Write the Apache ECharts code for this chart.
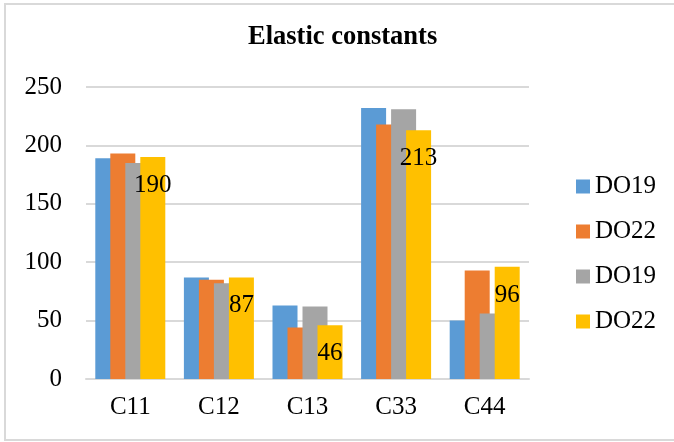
<!DOCTYPE html>
<html>
<head>
<meta charset="utf-8">
<script src="https://cdn.jsdelivr.net/npm/echarts@6/dist/echarts.min.js"></script>
<style>
  html, body { margin: 0; padding: 0; background: #fff; }
  .frame {
    position: absolute; left: 4px; top: 3px;
    width: 690px; height: 438px;
    border: 2px solid #d9d9d9; box-sizing: border-box;
  }
  .chart { position: absolute; left: 0; top: 0; width: 674px; height: 442px; }
</style>
</head>
<body>
<div class="frame"></div>
<div id="chart" class="chart"></div>
<script>
  // data
  var categories = ['C11', 'C12', 'C13', 'C33', 'C44']
  var seriesNames = ['DO19', 'DO22', 'DO19', 'DO22']
  var do19a = [189, 87, 63, 232, 50]
  var do22a = [193, 85, 44, 218, 93]
  var do19b = [185, 82, 62, 231, 56]
  var do22b = [190, 87, 46, 213, 96]
  var yTicks = [0, 50, 100, 150, 200, 250]

  var font = "'Liberation Serif', 'Times New Roman', serif"
  var colorlist = ['#5b9bd5', '#ed7d31', '#a5a5a5', '#ffc000']
  var values = [do19a, do22a, do19b, do22b]

  var myChart = echarts.init(document.getElementById('chart'))
  var series = []
  values.forEach(function (data, index) {
    series.push({
      // names must be unique for the legend, the suffix is cut off in the formatter
      name: seriesNames[index] + '#' + index,
      type: 'bar',
      data: data,
      color: colorlist[index],
      barWidth: 25,
      barGap: '-40%',
      label: {
        show: index === 3,
        position: 'insideTop',
        distance: 16,
        color: '#000',
        fontFamily: font,
        fontSize: 25
      }
    })
  })

  var option = {
    animation: false,
    textStyle: { fontFamily: font },
    title: {
      text: 'Elastic constants',
      left: 248,
      top: 24,
      padding: 0,
      textStyle: { fontFamily: font, fontSize: 26.5, fontWeight: 'bold', color: '#000' }
    },
    legend: {
      orient: 'vertical',
      left: 571,
      top: 169,
      icon: 'rect',
      itemWidth: 14,
      itemHeight: 14,
      itemGap: 20,
      formatter: function (name) { return name.split('#')[0] },
      textStyle: { fontFamily: font, fontSize: 25, color: '#000' }
    },
    grid: { left: 86, right: 145, top: 87, bottom: 63, containLabel: false },
    xAxis: {
      type: 'category',
      data: categories,
      axisLine: { lineStyle: { color: '#d9d9d9', width: 2 } },
      axisTick: { show: false },
      axisLabel: { color: '#000', fontFamily: font, fontSize: 25, margin: 16 }
    },
    yAxis: {
      type: 'value',
      min: yTicks[0],
      max: yTicks[yTicks.length - 1],
      interval: 50,
      axisLine: { show: false },
      axisTick: { show: false },
      splitLine: { lineStyle: { color: '#d9d9d9', width: 2 } },
      axisLabel: { color: '#000', fontFamily: font, fontSize: 25, margin: 24 }
    },
    series: series
  }
  myChart.setOption(option)
</script>
</body>
</html>
